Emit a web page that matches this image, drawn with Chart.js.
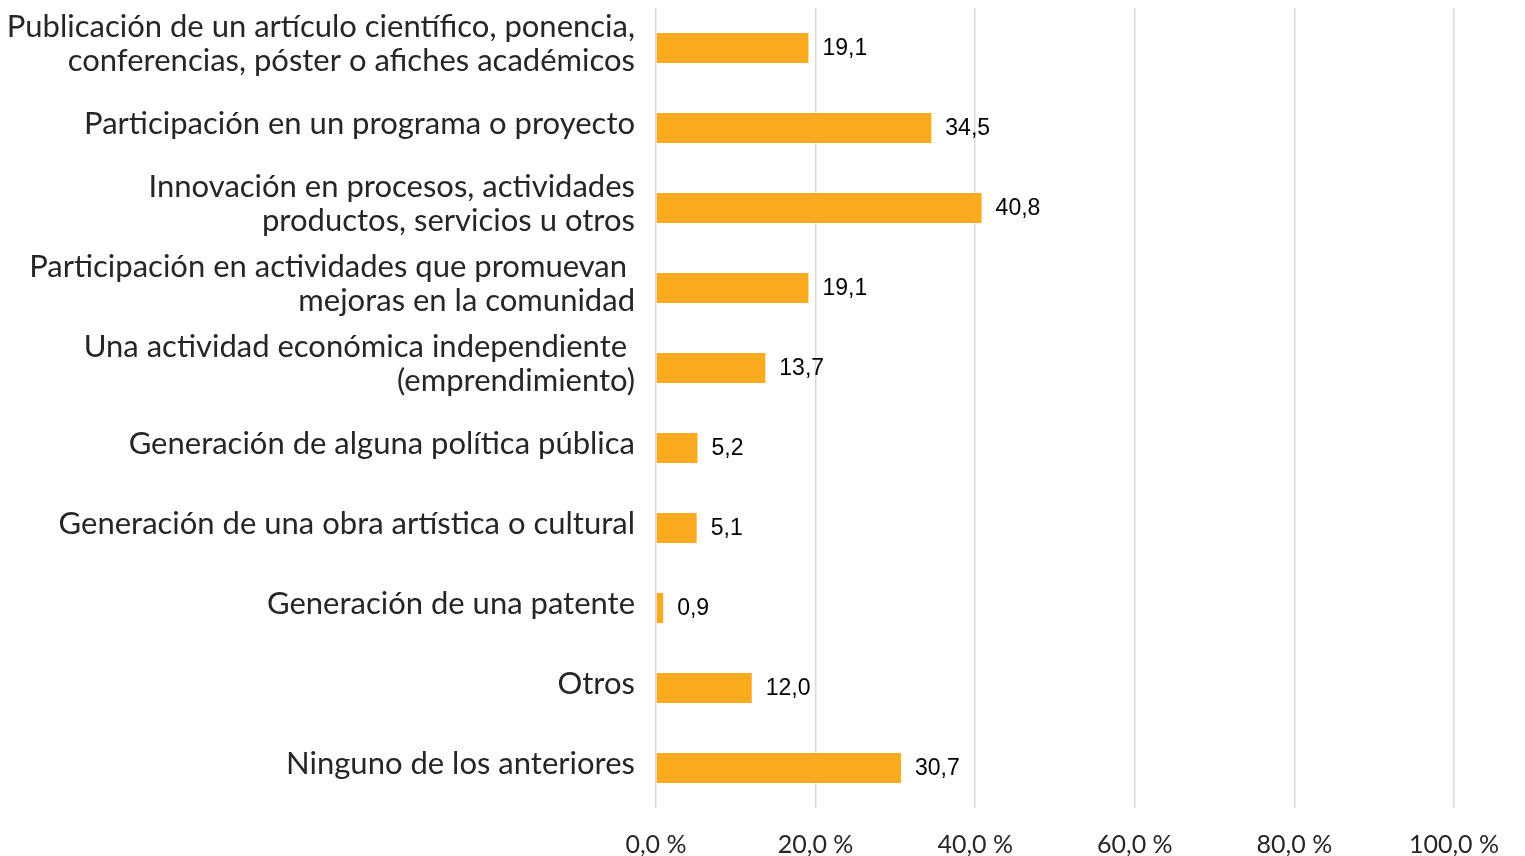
<!DOCTYPE html>
<html>
<head>
<meta charset="utf-8">
<script src="https://cdn.jsdelivr.net/npm/chart.js@4.4.1/dist/chart.umd.min.js"></script>
<style>
  html, body { margin: 0; padding: 0; background: #fff; }
  #wrap { width: 1525px; height: 856px; }
</style>
</head>
<body>
<div id="wrap"><canvas id="grafico"></canvas></div>
<script>
const categorias = [
  ["Publicación de un artículo científico, ponencia,", "conferencias, póster o afiches académicos"],
  "Participación en un programa o proyecto",
  ["Innovación en procesos, actividades", "productos, servicios u otros"],
  ["Participación en actividades que promuevan ", "mejoras en la comunidad"],
  ["Una actividad económica independiente ", "(emprendimiento)"],
  "Generación de alguna política pública",
  "Generación de una obra artística o cultural",
  "Generación de una patente",
  "Otros",
  "Ninguno de los anteriores"
];
const porcentajes = [19.1, 34.5, 40.8, 19.1, 13.7, 5.2, 5.1, 0.9, 12.0, 30.7];
const ticksX = [0, 20, 40, 60, 80, 100];

const coma = v => v.toFixed(1).replace(".", ",");

// etiquetas de valor a la derecha de cada barra
const etiquetasValor = {
  id: "etiquetasValor",
  afterDatasetsDraw(chart) {
    const ctx = chart.ctx;
    const meta = chart.getDatasetMeta(0);
    ctx.save();
    ctx.font = "23px 'Liberation Sans', Arial, sans-serif";
    ctx.fillStyle = "#000";
    ctx.textBaseline = "middle";
    ctx.textAlign = "left";
    meta.data.forEach((bar, i) => {
      ctx.fillText(coma(porcentajes[i]), bar.x + 14, bar.y + 1);
    });
    ctx.restore();
  }
};

const ctx = document.getElementById("grafico").getContext("2d");
new Chart(ctx, {
  type: "bar",
  data: {
    labels: categorias,
    datasets: [{
      data: porcentajes,
      backgroundColor: "#FBAC1E",
      borderWidth: 0,
      categoryPercentage: 1,
      barPercentage: 0.375
    }]
  },
  options: {
    indexAxis: "y",
    responsive: true,
    maintainAspectRatio: false,
    animation: false,
    layout: { padding: { top: 8, right: 71, left: 0, bottom: 0 } },
    plugins: {
      legend: { display: false },
      tooltip: { enabled: false }
    },
    scales: {
      x: {
        min: 0,
        max: 100,
        afterBuildTicks: s => { s.ticks = ticksX.map(v => ({ value: v })); },
        afterFit: s => { s.height = 48; s.paddingLeft = 0; s.paddingRight = 0; },
        grid: { color: "#D9D9D9", lineWidth: 1.5, drawTicks: false },
        border: { display: false },
        ticks: {
          padding: 22,
          color: "#262626",
          font: { family: "Lato, 'Open Sans', sans-serif", size: 25 },
          callback: v => coma(v) + " %"
        }
      },
      y: {
        afterFit: s => { s.width = 656; s.paddingTop = 0; s.paddingBottom = 0; },
        grid: { display: false, drawTicks: false },
        border: { display: false },
        ticks: {
          padding: 21,
          labelOffset: -4,
          color: "#262626",
          font: { family: "Lato, 'Open Sans', sans-serif", size: 31, lineHeight: 1.12 }
        }
      }
    }
  },
  plugins: [etiquetasValor]
});
</script>
</body>
</html>
